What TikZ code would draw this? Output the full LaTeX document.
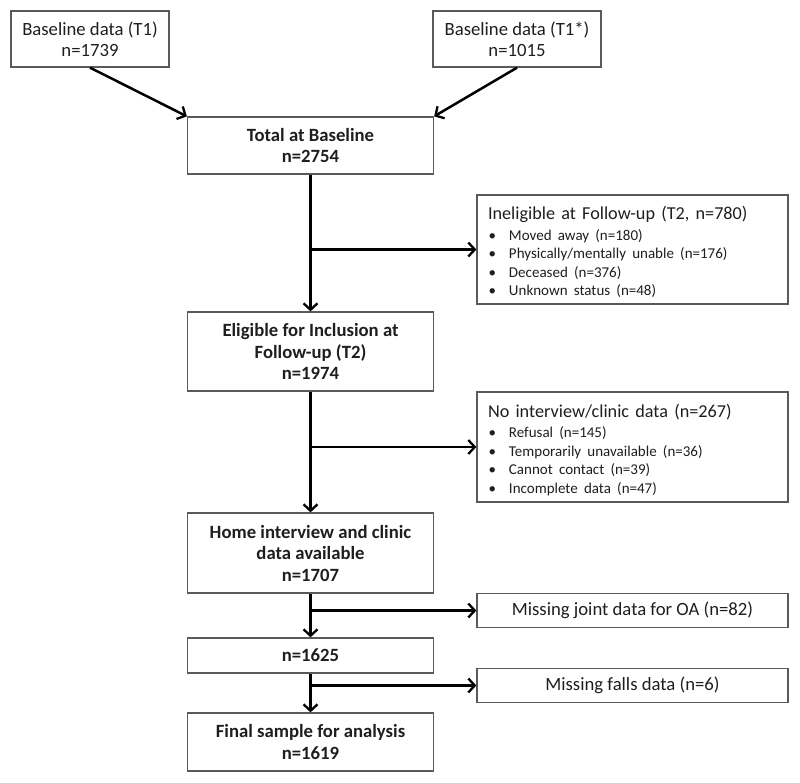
\documentclass[tikz,border=0pt]{standalone}
\usepackage{fontspec}
\setmainfont{Carlito}
\usetikzlibrary{arrows.meta}
\definecolor{boxline}{HTML}{5A5A5A}
\definecolor{txt}{HTML}{1E1E1E}
\tikzset{
  box/.style={draw=boxline, line width=1.3pt, rectangle, inner sep=0pt, align=center,
    text=txt, font=\fontsize{18.7}{21.5}\selectfont},
  mainbox/.style={box, minimum width=246pt},
  sidebox/.style={box, minimum width=311pt},
  listbox/.style={sidebox, text width=289pt, align=left},
  arr/.style={line width=2.5pt, -{Straight Barb[length=6.5pt,width=14pt,line width=2.3pt]}},
}
\newcommand{\listtitle}[1]{\multicolumn{2}{@{}l@{}}{\rule{0pt}{22pt}\fontsize{18.2}{21}\selectfont #1}}
\newcommand{\bul}{\makebox[21pt][l]{\hspace*{0.5pt}•}}
\begin{document}
\begin{tikzpicture}[x=1pt,y=1pt]
\useasboundingbox (0,0) rectangle (800,-782);
\node[box, minimum width=158pt, minimum height=56pt] (t1) at (90,-39) {Baseline data (T1)\\n=1739};
\node[box, minimum width=168pt, minimum height=56pt] (t1s) at (517,-39) {Baseline data (T1*)\\n=1015};
\node[mainbox, minimum height=57pt] (total) at (310.5,-145.5) {\bfseries Total at Baseline\\\bfseries n=2754};
\node[listbox, minimum height=109pt] (inel) at (632.5,-249.5)
  {\fontsize{15}{18.5}\selectfont
   \begin{tabular}{@{}l@{}l@{}}
   \listtitle{Ineligible at Follow-up (T2, n=780)}\\[2pt]
   \bul & Moved away (n=180)\\
   \bul & Physically/mentally unable (n=176)\\
   \bul & Deceased (n=376)\\
   \bul & Unknown status (n=48)
   \end{tabular}};
\node[mainbox, minimum height=79pt] (elig) at (310.5,-351.5) {\bfseries Eligible for Inclusion at\\\bfseries Follow-up (T2)\\\bfseries n=1974};
\node[listbox, minimum height=110pt] (noint) at (632.5,-447)
  {\fontsize{15}{18.5}\selectfont
   \begin{tabular}{@{}l@{}l@{}}
   \listtitle{No interview/clinic data (n=267)}\\[2pt]
   \bul & Refusal (n=145)\\
   \bul & Temporarily unavailable (n=36)\\
   \bul & Cannot contact (n=39)\\
   \bul & Incomplete data (n=47)
   \end{tabular}};
\node[mainbox, minimum height=80pt] (home) at (310.5,-553) {\bfseries Home interview and clinic\\\bfseries data available\\\bfseries n=1707};
\node[sidebox, minimum height=34pt] (miss1) at (632.5,-610.5) {Missing joint data for OA (n=82)};
\node[mainbox, minimum height=35pt] (n1625) at (310.5,-655.5) {\bfseries n=1625};
\node[sidebox, minimum height=34pt] (miss2) at (632.5,-685.5) {Missing falls data (n=6)};
\node[mainbox, minimum height=58pt] (final) at (310.5,-742) {\bfseries Final sample for analysis\\\bfseries n=1619};

\draw[arr] (t1.south) -- (total.north west);
\draw[arr] (t1s.south) -- (total.north east);
\draw[arr] (total) -- (elig);
\draw[arr] (total.south |- inel.west) -- (inel.west);
\draw[arr] (elig) -- (home);
\draw[arr] (elig.south |- noint.west) -- (noint.west);
\draw[arr] (home) -- (n1625);
\draw[arr] (home.south |- miss1.west) -- (miss1.west);
\draw[arr] (n1625) -- (final);
\draw[arr] (n1625.south |- miss2.west) -- (miss2.west);
\end{tikzpicture}
\end{document}
